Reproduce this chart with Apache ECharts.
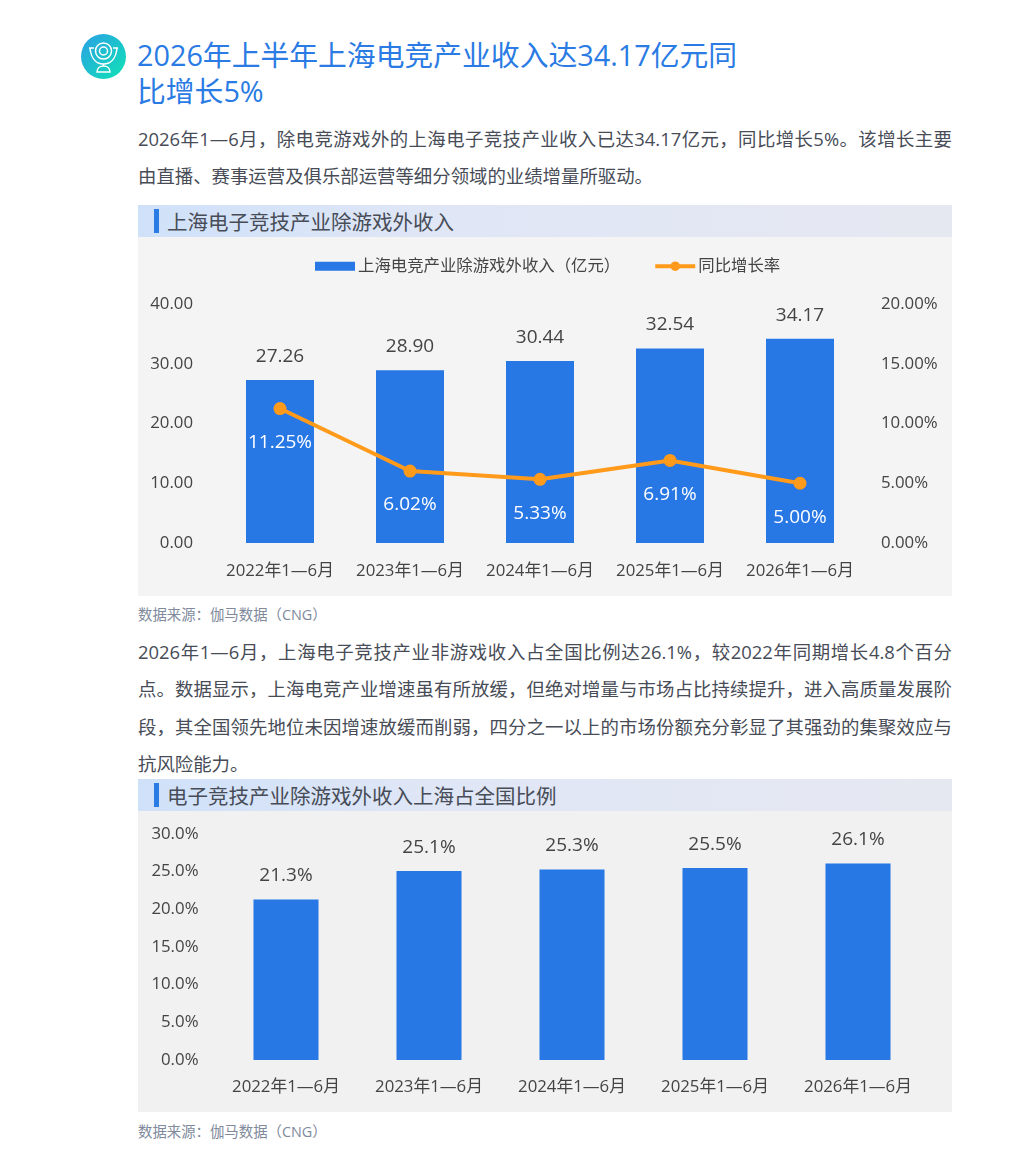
<!DOCTYPE html>
<html lang="zh-CN"><head><meta charset="utf-8">
<script src="https://cdn.jsdelivr.net/npm/echarts@6/dist/echarts.min.js"></script>
<style>
html,body{margin:0;padding:0;background:#fff;width:1024px;height:1161px;overflow:hidden}
body{font-family:"Open Sans","Noto Sans CJK SC",sans-serif;position:relative}
.a{position:absolute;white-space:nowrap}
.title{left:137px;width:600px;font-size:28.8px;line-height:36px;color:#2a7be4}
.p{left:138px;width:814px;font-size:18.4px;line-height:37.5px;color:#474c57}
.j{text-align:justify;text-align-last:justify;white-space:normal}
.head{left:138px;width:814px;height:32px;background:linear-gradient(90deg,#cfe1f9 0%,#dfe6f6 35%,#e6e8f1 100%);color:#474c57;font-size:20.5px;line-height:35px;text-indent:29px}
.head i{position:absolute;left:16px;top:4px;width:5px;height:24px;background:#2a7be4}
.src{left:138px;font-size:14.4px;line-height:20px;color:#808a9c}
.c{position:absolute;left:138px;width:814px}
</style></head><body>
<svg class="a" style="left:80px;top:34px" width="47" height="47" viewBox="0 0 47 47">
<defs><linearGradient id="g" x1="0" y1="0" x2="1" y2="1"><stop offset="0" stop-color="#2a9fe6"/><stop offset="1" stop-color="#10e3b4"/></linearGradient></defs>
<circle cx="23.5" cy="22.5" r="22.5" fill="url(#g)"/>
<g fill="none" stroke="#fff" stroke-width="1.5"><circle cx="23.5" cy="17" r="8"/><circle cx="23.5" cy="17" r="4"/><path d="M9 14h5M33 14h5M10 14c1 10 6 16 13.500 16s12.500-6 13.500-16"/><path d="M23.500 30v2M17 38c0-4 3-6 6.500-6s6.500 2 6.500 6z"/></g></svg>
<div class="a title" style="top:37px">2026年上半年上海电竞产业收入达34.17亿元同<br>比增长5%</div>
<div class="a p j" style="top:119.500px">2026年1—6月，除电竞游戏外的上海电子竞技产业收入已达34.17亿元，同比增长5%。该增长主要</div>
<div class="a p" style="top:157px">由直播、赛事运营及俱乐部运营等细分领域的业绩增量所驱动。</div>
<div class="a head" style="top:205px"><i></i>上海电子竞技产业除游戏外收入</div>
<div class="c" id="c1" style="top:237px;height:359px"></div>
<div class="a src" style="top:605px">数据来源：伽马数据（CNG）</div>
<div class="a p j" style="top:633px">2026年1—6月，上海电子竞技产业非游戏收入占全国比例达26.1%，较2022年同期增长4.8个百分</div>
<div class="a p j" style="top:670px">点。数据显示，上海电竞产业增速虽有所放缓，但绝对增量与市场占比持续提升，进入高质量发展阶</div>
<div class="a p j" style="top:708px">段，其全国领先地位未因增速放缓而削弱，四分之一以上的市场份额充分彰显了其强劲的集聚效应与</div>
<div class="a p" style="top:745px">抗风险能力。</div>
<div class="a head" style="top:779px"><i></i>电子竞技产业除游戏外收入上海占全国比例</div>
<div class="c" id="c2" style="top:811px;height:301px"></div>
<div class="a src" style="top:1122px">数据来源：伽马数据（CNG）</div>
<script>
const categories = ['2022年1—6月','2023年1—6月','2024年1—6月','2025年1—6月','2026年1—6月'];
const revenue = [27.26,28.90,30.44,32.54,34.17];
const growth = [11.25,6.02,5.33,6.91,5.00];
const share = [21.3,25.1,25.3,25.5,26.1];
const FONT = '"Open Sans","Noto Sans CJK SC",sans-serif';
const BLUE = '#2777e5', ORANGE = '#ff9a1a', TXT = '#444';
const xAxisWith = m => ({type:'category',data:categories,axisLine:{show:false},axisTick:{show:false},
  axisLabel:{color:TXT,fontSize:16.8,fontFamily:FONT,margin:m,interval:0,hideOverlap:false}});
const val = (o,fmt,m)=>Object.assign({type:'value',min:0,splitLine:{show:false},axisLine:{show:false},axisTick:{show:false},
  axisLabel:{color:TXT,fontSize:16.8,fontFamily:FONT,margin:m,formatter:fmt}},o);
const c1 = echarts.init(document.getElementById('c1'));
c1.setOption({animation:false,backgroundColor:'#f4f4f4',textStyle:{fontFamily:FONT},
  legend:{top:16,left:172,itemGap:33,itemWidth:40,itemHeight:12,textStyle:{color:TXT,fontSize:16.4,fontFamily:FONT,padding:[0,0,0,-2]},
    data:[{name:'上海电竞产业除游戏外收入（亿元）',icon:'path://M0,0L40,0L40,0Z M0,1.5H40V10.5H0Z M0,12L40,12L40,12Z'},{name:'同比增长率',lineStyle:{width:4}}]},
  grid:{left:77,width:650,top:67,height:239},
  xAxis:xAxisWith(20),
  yAxis:[val({max:40,interval:10},v=>v.toFixed(2),22),val({max:20,interval:5},v=>v.toFixed(2)+'%',16)],
  series:[
   {name:'上海电竞产业除游戏外收入（亿元）',type:'bar',data:revenue,barWidth:68,itemStyle:{color:BLUE},
    label:{show:true,position:'top',distance:14,color:TXT,fontSize:19,fontFamily:FONT,formatter:p=>p.value.toFixed(2)}},
   {name:'同比增长率',type:'line',yAxisIndex:1,data:growth,symbol:'circle',symbolSize:13,
    lineStyle:{color:ORANGE,width:4},itemStyle:{color:ORANGE},
    label:{show:true,position:'bottom',distance:18,color:'#fff',fontSize:19,fontFamily:FONT,formatter:p=>p.value.toFixed(2)+'%'}}
  ]});
const c2 = echarts.init(document.getElementById('c2'));
c2.setOption({animation:false,backgroundColor:'#f1f1f1',textStyle:{fontFamily:FONT},
  grid:{left:76.5,width:715,top:23,height:226},
  xAxis:xAxisWith(19),
  yAxis:val({max:30,interval:5},v=>v.toFixed(1)+'%',16),
  series:[{type:'bar',data:share,barWidth:65,itemStyle:{color:BLUE},
    label:{show:true,position:'top',distance:14,color:TXT,fontSize:19,fontFamily:FONT,formatter:p=>p.value.toFixed(1)+'%'}}]});
</script></body></html>
